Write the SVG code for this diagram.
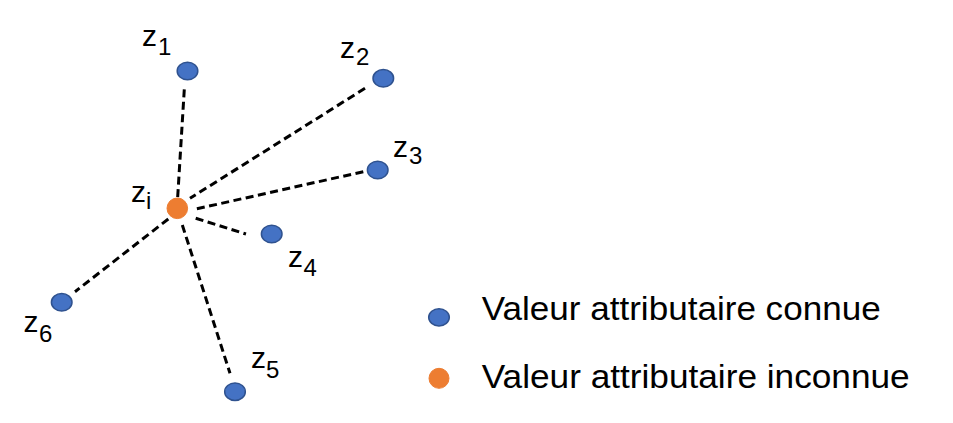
<svg xmlns="http://www.w3.org/2000/svg" width="953" height="423" viewBox="0 0 953 423">
<style>
.known{fill:#4472C4;stroke:#2F528F;stroke-width:1.5}
.unknown{fill:#ED7D31;stroke:#ED7D31;stroke-width:1}
.lbl{font-family:"Liberation Sans",Arial,sans-serif;font-size:30px;fill:#000}
.sub{font-size:24px}
.leg{font-family:"Liberation Sans",Arial,sans-serif;font-size:33px;fill:#000}
.edge{stroke:#000;stroke-width:3;stroke-dasharray:8 4.5;fill:none}
</style>
<rect width="953" height="423" fill="#fff"/>
<g id="connectors">
<line class="edge" x1="184.3" y1="89.3" x2="177.5" y2="200"/>
<line class="edge" x1="365" y1="88.3" x2="190" y2="198.3"/>
<line class="edge" x1="363.3" y1="171.7" x2="196" y2="209"/>
<line class="edge" x1="195.7" y1="218.3" x2="246" y2="234"/>
<line class="edge" x1="182.3" y1="225" x2="230" y2="373.3"/>
<line class="edge" x1="168.3" y1="219" x2="75" y2="291.7"/>
</g>
<g id="z1"><ellipse class="known" cx="187.5" cy="71" rx="10.3" ry="8.8"/><text class="lbl" x="142" y="46">z<tspan class="sub" x="158" y="55">1</tspan></text></g>
<g id="z2"><ellipse class="known" cx="383.3" cy="78.3" rx="10.3" ry="8.8"/><text class="lbl" x="340" y="58.3">z<tspan class="sub" x="356" y="64.5">2</tspan></text></g>
<g id="z3"><ellipse class="known" cx="377.7" cy="170" rx="10.3" ry="8.8"/><text class="lbl" x="393" y="157">z<tspan class="sub" x="409" y="164">3</tspan></text></g>
<g id="z4"><ellipse class="known" cx="271.7" cy="234" rx="10.3" ry="8.8"/><text class="lbl" x="288" y="267.3">z<tspan class="sub" x="303.5" y="275.5">4</tspan></text></g>
<g id="z5"><ellipse class="known" cx="235" cy="391.7" rx="10.3" ry="8.8"/><text class="lbl" x="251" y="368.3">z<tspan class="sub" x="266" y="377.5">5</tspan></text></g>
<g id="z6"><ellipse class="known" cx="61.7" cy="302.3" rx="10.3" ry="8.8"/><text class="lbl" x="23.5" y="331.7">z<tspan class="sub" x="39" y="342">6</tspan></text></g>
<g id="zi"><circle class="unknown" cx="177.3" cy="208.3" r="10.3"/><text class="lbl" x="131" y="201.7">z<tspan class="sub" x="146" y="208.5">i</tspan></text></g>
<g id="legend-known"><ellipse class="known" cx="439" cy="317.3" rx="10.3" ry="8.6"/><text class="leg" x="481.7" y="320" textLength="399" lengthAdjust="spacingAndGlyphs">Valeur attributaire connue</text></g>
<g id="legend-unknown"><circle class="unknown" cx="439" cy="378.3" r="10"/><text class="leg" x="481.7" y="388" textLength="428" lengthAdjust="spacingAndGlyphs">Valeur attributaire inconnue</text></g>
</svg>
